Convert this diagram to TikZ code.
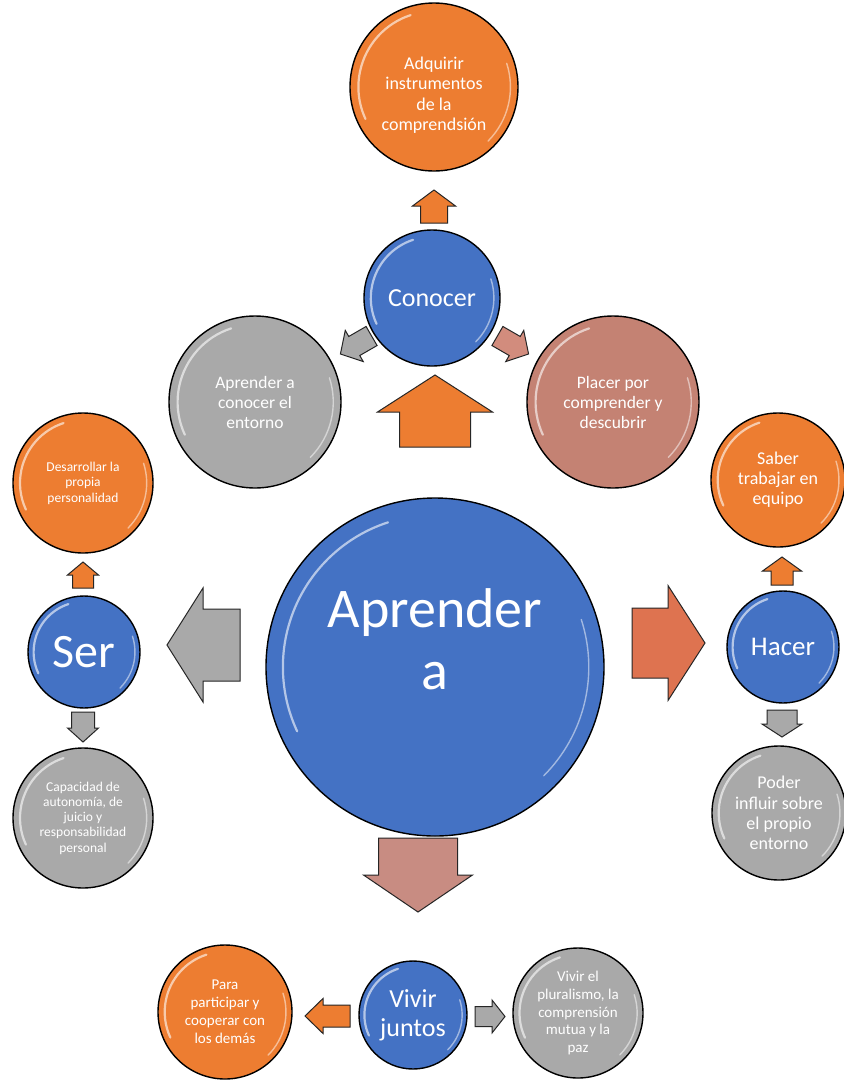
\documentclass[tikz,border=0pt]{standalone}
\usepackage{fontspec}
\setmainfont{Carlito}
\definecolor{cBlue}{HTML}{4472C4}
\definecolor{cOrange}{HTML}{ED7D31}
\definecolor{cGray}{HTML}{A9A9A9}
\definecolor{cRose}{HTML}{C48273}
\definecolor{cRoseArrow}{HTML}{DE7350}
\definecolor{cRoseDown}{HTML}{C88C82}
\definecolor{cRoseSmall}{HTML}{D28C7D}
\newcommand\blockarrow[8]{% x y angle L H s h colour
  \begin{scope}[shift={(#1,#2)},rotate=#3]
    \filldraw[arrowstyle, fill=#8] ({-#4/2},{-#6/2}) -- ({#4/2-#7},{-#6/2}) -- ({#4/2-#7},{-#5/2}) -- ({#4/2},0) -- ({#4/2-#7},{#5/2}) -- ({#4/2-#7},{#6/2}) -- ({-#4/2},{#6/2}) -- cycle;
  \end{scope}}
\newcommand\gloss[2]{% node name, radius
  \pgfmathsetmacro\glr{#2*0.9}
  \pgfmathsetmacro\glrb{#2*0.91}
  \draw[glossy] (#1.center) ++(108:\glr pt) arc[start angle=108,end angle=205,radius=\glr pt];
  \draw[glossyb] (#1.center) ++(-45:\glrb pt) arc[start angle=-45,end angle=18,radius=\glrb pt];}
\begin{document}
\begin{tikzpicture}[x=1pt,y=-1pt,
  ball/.style={circle, draw=black, line width=1.4pt, inner sep=0pt, align=center, text=white},
  lbl/.style={align=center, text=white, inner sep=0pt},
  arrowstyle/.style={draw=black!85, line width=1pt, line join=miter},
  glossy/.style={white, opacity=.6, line width=2.2pt, line cap=round},
  glossyb/.style={white, opacity=.5, line width=1.4pt, line cap=round}]
\useasboundingbox (0,0) rectangle (844,1080);
\fill[white] (0,0) rectangle (844,1080);

% top group
\node[ball, fill=cOrange, minimum size=168pt] (adq) at (434,87) {};
\node[lbl, font=\fontsize{18}{20.5}\selectfont] (adqlbl) at (434,95) {Adquirir\\instrumentos\\de la\\comprendsión};
\node[ball, fill=cBlue, minimum size=136pt, font=\fontsize{26}{30}\selectfont] (con) at (432,298) {Conocer};
\node[ball, fill=cGray, minimum size=172pt, font=\fontsize{17.5}{20}\selectfont] (apc) at (255,402) {Aprender a\\conocer el\\entorno};
\node[ball, fill=cRose, minimum size=172pt, font=\fontsize{17.5}{20}\selectfont] (pla) at (613,402) {Placer por\\comprender y\\descubrir};

% centre
\node[ball, fill=cBlue, minimum size=338pt] (main) at (435,667) {};
\node[lbl, font=\fontsize{56}{62}\selectfont] (mainlbl) at (435,639) {Aprender\\a};

% left group
\node[ball, fill=cOrange, minimum size=140pt, font=\fontsize{13.5}{15.5}\selectfont] (des) at (83,483) {Desarrollar la\\propia\\personalidad};
\node[ball, fill=cBlue, minimum size=112pt, font=\fontsize{48}{50}\selectfont] (ser) at (84,652) {Ser};
\node[ball, fill=cGray, minimum size=140pt, font=\fontsize{13.5}{15.3}\selectfont] (cap) at (83,818) {Capacidad de\\autonomía, de\\juicio y\\responsabilidad\\personal};

% right group
\node[ball, fill=cOrange, minimum size=134pt, font=\fontsize{18}{20}\selectfont] (sab) at (778,480) {Saber\\trabajar en\\equipo};
\node[ball, fill=cBlue, minimum size=112pt, font=\fontsize{27}{30}\selectfont] (hac) at (783,647) {Hacer};
\node[ball, fill=cGray, minimum size=134pt, font=\fontsize{18}{20.3}\selectfont] (pod) at (779,813) {Poder\\influir sobre\\el propio\\entorno};

% bottom group
\node[ball, fill=cBlue, minimum size=108pt, font=\fontsize{26}{29}\selectfont] (viv) at (413,1015) {Vivir\\juntos};
\node[ball, fill=cOrange, minimum size=134pt, font=\fontsize{15}{18}\selectfont] (par) at (225,1012) {Para\\participar y\\cooperar con\\los demás};
\node[ball, fill=cGray, minimum size=130pt, font=\fontsize{15}{17.6}\selectfont] (plu) at (578,1013) {Vivir el\\pluralismo, la\\comprensión\\mutua y la\\paz};

% gloss highlights
\gloss{adq}{84}\gloss{con}{68}\gloss{apc}{86}\gloss{pla}{86}
\gloss{main}{169}
\gloss{des}{70}\gloss{ser}{56}\gloss{cap}{70}
\gloss{sab}{67}\gloss{hac}{56}\gloss{pod}{67}
\gloss{viv}{54}\gloss{par}{67}\gloss{plu}{65}

% block arrows: x y angle length headwidth shaftwidth headlength colour
\blockarrow{434}{206.5}{90}{33}{43}{27}{16}{cOrange}
\blockarrow{435}{411}{90}{72}{115}{71}{37}{cOrange}
\blockarrow{356}{345}{210}{36}{36}{22}{16}{cGray}
\blockarrow{513}{345}{-30}{36}{36}{22}{16}{cRoseSmall}
\blockarrow{203.5}{645}{180}{73}{114}{72}{36}{cGray}
\blockarrow{83}{575}{90}{26}{31}{21}{13}{cOrange}
\blockarrow{83}{727}{-90}{30}{31}{23}{14}{cGray}
\blockarrow{668.5}{643}{0}{73}{115}{70}{37}{cRoseArrow}
\blockarrow{782}{571}{90}{28}{39}{22}{14}{cOrange}
\blockarrow{782}{723.5}{-90}{27}{40}{30}{13}{cGray}
\blockarrow{418}{875}{-90}{74}{109}{79}{37}{cRoseDown}
\blockarrow{327.5}{1016}{180}{45}{35}{22}{18}{cOrange}
\blockarrow{490}{1016.5}{0}{30}{33}{20}{13}{cGray}
\end{tikzpicture}
\end{document}
